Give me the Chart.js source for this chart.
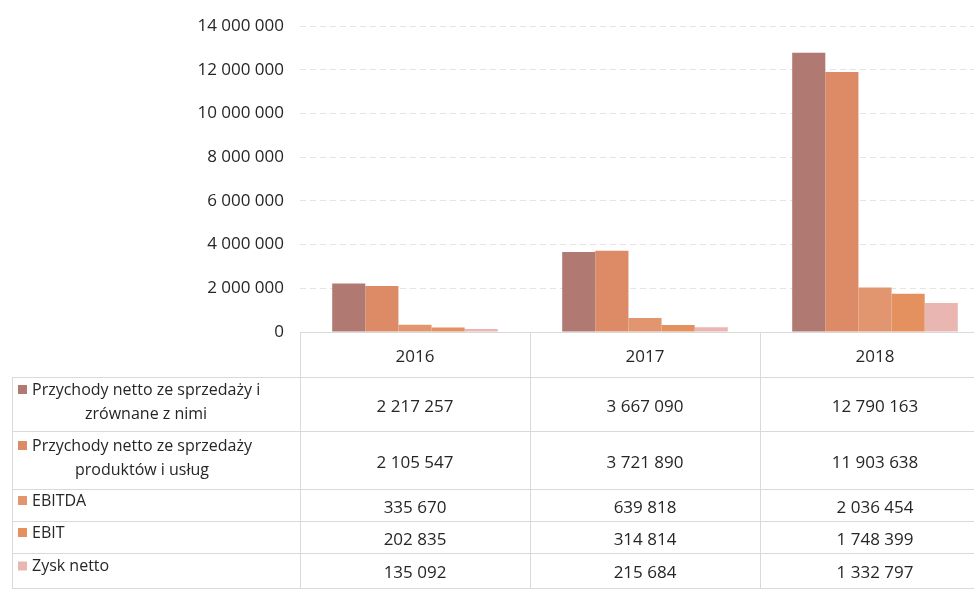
<!DOCTYPE html>
<html>
<head>
<meta charset="utf-8">
<script src="https://cdn.jsdelivr.net/npm/chart.js@4.4.0/dist/chart.umd.min.js"></script>
<style>
  html, body { margin: 0; padding: 0; background: #fff; overflow: hidden; }
  #wrap { width: 1000px; height: 593px; }
</style>
</head>
<body>
<div id="wrap"><canvas id="chart" width="1000" height="593"></canvas></div>
<script>
const years = ['2016', '2017', '2018'];
const seriesNames = [
  ['Przychody netto ze sprzedaży i', 'zrównane z nimi'],
  ['Przychody netto ze sprzedaży', 'produktów i usług'],
  ['EBITDA'],
  ['EBIT'],
  ['Zysk netto']
];
const przychodyZrownane = [2217257, 3667090, 12790163];
const przychodyProdukty = [2105547, 3721890, 11903638];
const ebitda = [335670, 639818, 2036454];
const ebit = [202835, 314814, 1748399];
const zyskNetto = [135092, 215684, 1332797];
const yTicks = [0, 2000000, 4000000, 6000000, 8000000, 10000000, 12000000, 14000000];

const colors = ['#b07a72', '#dc8b66', '#e29670', '#e4915f', '#e9b6b1'];
const allValues = [przychodyZrownane, przychodyProdukty, ebitda, ebit, zyskNetto];

// format z odstępem tysięcy
function fmt(n) {
  return String(n).replace(/\B(?=(\d{3})+(?!\d))/g, ' ');
}

const FONT = '"Open Sans", sans-serif';
const TEXT = '#262626';
const LINE = '#d9d9d9';

// wiersze tabeli (górne krawędzie)
const rowTops = [377, 431, 489, 521, 553, 588];

const dataTable = {
  id: 'dataTable',
  afterDraw(chart) {
    const c = chart.ctx;
    const x = chart.scales.x;
    const area = chart.chartArea;
    const step = x.getPixelForValue(1) - x.getPixelForValue(0);
    const left = area.left;
    const right = area.right;
    const tableLeft = 12;
    c.save();
    c.strokeStyle = LINE;
    c.lineWidth = 1;
    // linie poziome
    c.beginPath();
    c.moveTo(left, area.bottom + 0.5);
    c.lineTo(right, area.bottom + 0.5);
    rowTops.forEach(y => {
      c.moveTo(tableLeft, y + 0.5);
      c.lineTo(right, y + 0.5);
    });
    // linie pionowe
    c.moveTo(tableLeft + 0.5, rowTops[0]);
    c.lineTo(tableLeft + 0.5, rowTops[rowTops.length - 1]);
    for (let i = 0; i <= years.length; i++) {
      const xx = Math.round(left + i * step) + 0.5;
      c.moveTo(xx, area.bottom);
      c.lineTo(xx, rowTops[rowTops.length - 1]);
    }
    c.stroke();

    c.fillStyle = TEXT;
    c.textBaseline = 'middle';
    c.font = '17px ' + FONT;
    c.textAlign = 'center';
    years.forEach((y, i) => {
      c.fillText(y, x.getPixelForValue(i), (area.bottom + rowTops[0]) / 2 + 3);
    });

    seriesNames.forEach((lines, r) => {
      const top = rowTops[r];
      const bot = rowTops[r + 1];
      const mid = (top + bot) / 2;
      // kwadracik legendy
      c.fillStyle = colors[r];
      const lineH = 24;
      const firstY = lines.length > 1 ? mid - lineH / 2 - 2 : mid - 4;
      c.fillRect(18, firstY - 5, 9, 9);
      c.fillStyle = TEXT;
      c.font = '16px ' + FONT;
      if (lines.length > 1) {
        c.textAlign = 'left';
        c.fillText(lines[0], 32, firstY);
        const w0 = c.measureText(lines[0]).width;
        c.textAlign = 'center';
        c.fillText(lines[1], 32 + w0 / 2, firstY + lineH);
      } else {
        c.textAlign = 'left';
        c.fillText(lines[0], 32, firstY);
      }
      c.textAlign = 'center';
      c.font = '17px ' + FONT;
      allValues[r].forEach((v, i) => {
        c.fillText(fmt(v), x.getPixelForValue(i), mid + 3);
      });
    });
    c.restore();
  }
};

const ctx = document.getElementById('chart').getContext('2d');
new Chart(ctx, {
  type: 'bar',
  data: {
    labels: years,
    datasets: allValues.map((vals, i) => ({
      label: seriesNames[i].join(' '),
      data: vals,
      backgroundColor: colors[i],
      borderWidth: 0,
      categoryPercentage: 0.72,
      barPercentage: 1.0
    }))
  },
  options: {
    responsive: false,
    animation: false,
    layout: { padding: { left: 0, right: 10, top: 23, bottom: 253 } },
    plugins: {
      legend: { display: false },
      tooltip: { enabled: false }
    },
    scales: {
      x: {
        grid: { display: false },
        border: { display: false },
        ticks: { display: false }
      },
      y: {
        min: 0,
        max: 14000000,
        afterBuildTicks(axis) {
          axis.ticks = yTicks.map(v => ({ value: v }));
        },
        afterFit(axis) {
          axis.width = 300;
        },
        grid: {
          color: '#e4e4e4',
          drawTicks: false
        },
        border: { display: false, dash: [6, 4] },
        ticks: {
          color: TEXT,
          padding: 16,
          font: { family: FONT, size: 17 },
          callback: v => fmt(v)
        }
      }
    }
  },
  plugins: [dataTable]
});
</script>
</body>
</html>
